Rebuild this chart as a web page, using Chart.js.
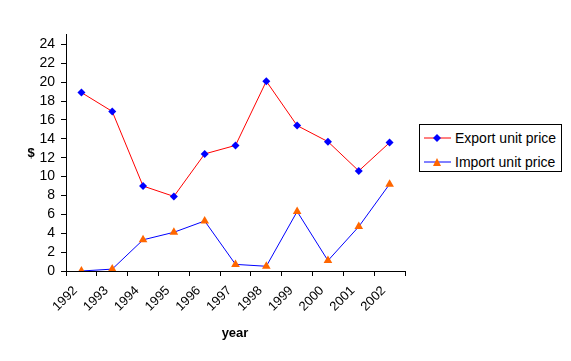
<!DOCTYPE html>
<html>
<head>
<meta charset="utf-8">
<script src="https://cdn.jsdelivr.net/npm/chart.js@4.4.1/dist/chart.umd.min.js"></script>
<style>
  html, body { margin: 0; padding: 0; background: #fff; }
  #wrap { position: relative; width: 571px; height: 361px; }
  #legend {
    position: absolute; left: 419px; top: 124px; width: 141px; height: 46px;
    border: 1px solid #000; background: #fff;
    font-family: Arial, "Liberation Sans", sans-serif; font-size: 14px; color: #000;
  }
  #legend .row { position: absolute; left: 4px; height: 16px; line-height: 16px; white-space: nowrap; }
  #legend svg { vertical-align: middle; margin-right: 3px; position: relative; top: -1px; }
</style>
</head>
<body>
<div id="wrap">
  <canvas id="chart" width="571" height="361"></canvas>
  <div id="legend">
    <div class="row" style="top:5px">
      <svg width="28" height="10"><line x1="0" y1="5" x2="27" y2="5" stroke="#ff0000" stroke-width="1"/><polygon points="13,1 17,5 13,9 9,5" fill="#0000ff"/></svg>Export unit price
    </div>
    <div class="row" style="top:29px">
      <svg width="28" height="10"><line x1="0" y1="5" x2="27" y2="5" stroke="#0000ff" stroke-width="1"/><polygon points="13,1 17,9 9,9" fill="#ff6600"/></svg>Import unit price
    </div>
  </div>
</div>
<script>
// values
const years = ['1992', '1993', '1994', '1995', '1996', '1997', '1998', '1999', '2000', '2001', '2002'];
const exportPrice = [18.9, 16.9, 9.0, 7.9, 12.4, 13.3, 20.1, 15.4, 13.7, 10.6, 13.6];
const importPrice = [0.0, 0.2, 3.3, 4.1, 5.3, 0.7, 0.5, 6.3, 1.1, 4.7, 9.2];
const yTicks = [0, 2, 4, 6, 8, 10, 12, 14, 16, 18, 20, 22, 24];

const FONT = 'Arial, "Liberation Sans", sans-serif';

// axis titles, Excel style ("$" not rotated)
const axisTitles = {
  id: 'axisTitles',
  afterDraw(chart) {
    const c = chart.ctx;
    c.save();
    c.fillStyle = '#000';
    c.font = 'bold 13px ' + FONT;
    c.textAlign = 'center';
    c.textBaseline = 'middle';
    c.fillText('$', 31, 153);
    c.fillText('year', 235, 333);
    c.restore();
  }
};

new Chart(document.getElementById('chart'), {
  type: 'line',
  data: {
    labels: years,
    datasets: [
      {
        label: 'Export unit price',
        data: exportPrice,
        borderColor: '#ff0000',
        borderWidth: 1,
        backgroundColor: '#0000ff',
        pointStyle: 'rectRot',
        pointRadius: 4,
        pointBorderWidth: 0,
        tension: 0
      },
      {
        label: 'Import unit price',
        data: importPrice,
        borderColor: '#0000ff',
        borderWidth: 1,
        backgroundColor: '#ff6600',
        pointStyle: 'triangle',
        pointRadius: 5,
        pointBorderWidth: 0,
        tension: 0
      }
    ]
  },
  options: {
    responsive: false,
    animation: false,
    devicePixelRatio: 1,
    layout: { padding: { left: 0, top: 34, right: 166, bottom: 0 } },
    plugins: { legend: { display: false }, tooltip: { enabled: false } },
    scales: {
      x: {
        offset: true,
        grid: { offset: true, drawOnChartArea: false, drawTicks: true, tickLength: 5, color: '#000' },
        border: { color: '#000', width: 1 },
        ticks: {
          color: '#000', font: { family: FONT, size: 13 },
          minRotation: 45, maxRotation: 45, autoSkip: false,
          padding: 7, labelOffset: -6
        },
        afterFit(scale) { scale.height = 90; }
      },
      y: {
        min: 0,
        max: 25.1,
        grid: { drawOnChartArea: false, drawTicks: true, tickLength: 5, color: '#000' },
        border: { color: '#000', width: 1 },
        ticks: { color: '#000', font: { family: FONT, size: 14 }, padding: 6, autoSkip: false },
        afterBuildTicks(scale) { scale.ticks = yTicks.map(v => ({ value: v })); },
        afterFit(scale) { scale.width = 66; }
      }
    }
  },
  plugins: [axisTitles]
});
</script>
</body>
</html>
